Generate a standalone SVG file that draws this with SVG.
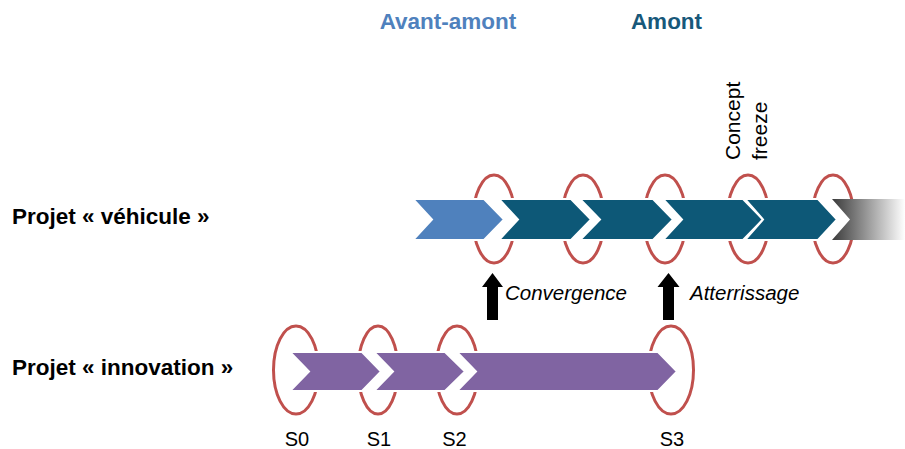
<svg xmlns="http://www.w3.org/2000/svg" width="905" height="449" viewBox="0 0 905 449">
<style>
.lbl{font-family:"Liberation Sans",Arial,sans-serif;fill:#000}
.b{font-weight:bold;font-size:22.5px}
.hdr{font-family:"Liberation Sans",Arial,sans-serif;font-weight:bold;font-size:22.5px}
.it{font-style:italic;font-size:20.5px}
.s{font-size:20px}
.cf{font-size:21px}
.ms{fill:none;stroke:#C0504D;stroke-width:3}
.lt{fill:#4F81BD;stroke:#fff;stroke-width:2}
.dk{fill:#0D5877;stroke:#fff;stroke-width:2}
.pu{fill:#8064A2;stroke:#fff;stroke-width:2}
.arr{fill:#000}
</style>
<defs>
<linearGradient id="fade" x1="0" y1="0" x2="1" y2="0">
<stop offset="0" stop-color="#3A3A3A"/>
<stop offset="1" stop-color="#ffffff"/>
</linearGradient>
<clipPath id="clipTop">
<rect x="0" y="0" width="905" height="199"/>
<rect x="0" y="240" width="905" height="209"/>
</clipPath>
<clipPath id="clipBot">
<rect x="0" y="0" width="905" height="352"/>
<rect x="0" y="391" width="905" height="58"/>
<rect x="0" y="352" width="290" height="39"/>
<rect x="677" y="352" width="228" height="39"/>
</clipPath>
</defs>

<g id="header-avant-amont"><text class="hdr" x="448" y="29" text-anchor="middle" fill="#4F81BD">Avant-amont</text></g>
<g id="header-amont"><text class="hdr" x="666.5" y="28.5" text-anchor="middle" fill="#17587A">Amont</text></g>

<g id="label-vehicule"><text class="lbl b" x="12" y="224">Projet « véhicule »</text></g>
<g id="label-innovation"><text class="lbl b" x="12" y="375">Projet « innovation »</text></g>

<g id="concept-freeze"><text class="lbl cf" transform="translate(740,160) rotate(-90)"><tspan x="0" y="0">Concept</tspan><tspan x="0" y="27">freeze</tspan></text></g>

<g id="milestones-vehicule" clip-path="url(#clipTop)">
<ellipse class="ms" cx="494" cy="219" rx="21" ry="44"/>
<ellipse class="ms" cx="583" cy="219" rx="21" ry="44"/>
<ellipse class="ms" cx="665" cy="219" rx="21" ry="44"/>
<ellipse class="ms" cx="748" cy="219" rx="21" ry="44"/>
<ellipse class="ms" cx="833" cy="219" rx="21" ry="44"/>
</g>

<g id="phases-vehicule">
<polygon class="lt" points="413,199 484,199 504,219.5 484,240 413,240 432,219.5"/>
<polygon class="dk" points="499,199 571,199 591,219.5 571,240 499,240 518,219.5"/>
<polygon class="dk" points="580,199 653,199 673,219.5 653,240 580,240 600,219.5"/>
<polygon class="dk" points="663,199 743,199 763,219.5 743,240 663,240 682,219.5"/>
<polygon class="dk" points="745,199 818,199 837,219.5 818,240 745,240 763,219.5"/>
<polygon fill="url(#fade)" points="832,199 905,199 905,240 832,240 850,219.5"/>
</g>

<g id="milestones-innovation" clip-path="url(#clipBot)">
<ellipse class="ms" cx="296" cy="370" rx="22.5" ry="44"/>
<ellipse class="ms" cx="378" cy="370" rx="20" ry="44"/>
<ellipse class="ms" cx="457" cy="370" rx="21" ry="44"/>
<ellipse class="ms" cx="671" cy="370" rx="22.5" ry="44"/>
</g>

<g id="phases-innovation">
<polygon class="pu" points="290,352 362,352 381,371.5 362,391 290,391 309,371.5"/>
<polygon class="pu" points="374,352 445,352 465,371.5 445,391 374,391 393,371.5"/>
<polygon class="pu" points="457,352 658,352 677,371.5 658,391 457,391 476,371.5"/>
</g>

<g id="labels-s">
<text class="lbl s" x="297" y="446" text-anchor="middle">S0</text>
<text class="lbl s" x="379" y="446" text-anchor="middle">S1</text>
<text class="lbl s" x="454.5" y="446" text-anchor="middle">S2</text>
<text class="lbl s" x="672" y="446" text-anchor="middle">S3</text>
</g>

<g id="connectors">
<polygon class="arr" points="492.5,273 503,287 498,287 498,320 487,320 487,287 482,287"/>
<polygon class="arr" points="668.5,273 679.5,287 674,287 674,320 663,320 663,287 657.5,287"/>
</g>

<g id="label-convergence"><text class="lbl it" x="505" y="300">Convergence</text></g>
<g id="label-atterrissage"><text class="lbl it" x="690" y="300">Atterrissage</text></g>
</svg>
